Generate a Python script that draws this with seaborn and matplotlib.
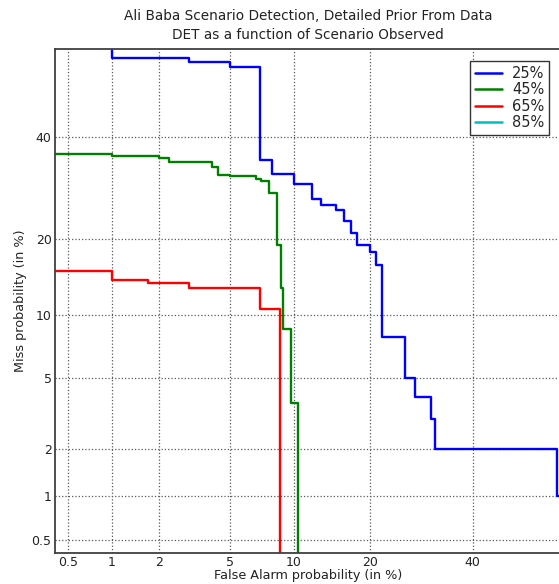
import numpy as np
import pandas as pd
import matplotlib
matplotlib.use("Agg")
import matplotlib.pyplot as plt
from matplotlib.lines import Line2D
import seaborn as sns
from statistics import NormalDist

# DET curves, values in percent (false alarm, miss)
fa_25 = [1, 1, 3, 5, 7, 8, 10, 12, 13, 15, 16, 17, 18, 20, 21, 22, 26, 28, 31, 32, 59, 65]
miss_25 = [65, 58, 57, 56, 35, 32, 30, 27, 26, 25, 23, 21, 19, 18, 16, 8, 5, 4, 3, 2, 1, 1]

fa_45 = [0.1, 1, 2, 2.3, 4, 4.3, 5, 6.7, 7.1, 7.7, 8.4, 8.8, 9.0, 9.7, 10.4]
miss_45 = [36.2, 35.9, 35.4, 34.6, 33.4, 31.9, 31.6, 30.9, 30.6, 28.3, 19, 13, 8.7, 3.7, 0.1]

fa_65 = [0.1, 1, 1.7, 3, 7, 8.7]
miss_65 = [15.3, 14.1, 13.7, 13.0, 10.7, 0.1]

fa_85 = []
miss_85 = []

series = ["25%", "45%", "65%", "85%"]
colors = {"25%": "#0000ff", "45%": "#008000", "65%": "#ff0000", "85%": "#00bfbf"}
tick_vals = [0.5, 1, 2, 5, 10, 20, 40]
tick_labels = ["0.5", "1", "2", "5", "10", "20", "40"]

nd = NormalDist()
_ppf = np.vectorize(lambda p: nd.inv_cdf(min(max(p / 100.0, 1e-9), 1 - 1e-9)), otypes=[float])
_cdf = np.vectorize(lambda z: nd.cdf(z) * 100.0, otypes=[float])


def fwd(v):
    return _ppf(np.asarray(v, dtype=float))


def inv(z):
    return _cdf(np.asarray(z, dtype=float))


sns.set_style("white")
plt.rcParams["font.family"] = ["DejaVu Sans"]

fig = plt.figure(figsize=(5.59, 5.84), dpi=100)
ax = fig.add_axes([55 / 559, 31 / 584, 506 / 559, 504 / 584])
ax.set_xscale("function", functions=(fwd, inv))
ax.set_yscale("function", functions=(fwd, inv))

data = {"25%": (fa_25, miss_25), "45%": (fa_45, miss_45), "65%": (fa_65, miss_65)}
for name, (fa, miss) in data.items():
    df = pd.DataFrame({"fa": fa, "miss": miss})
    sns.lineplot(data=df, x="fa", y="miss", ax=ax, sort=False, estimator=None,
                 color=colors[name], lw=1.7, drawstyle="steps-post")

ax.set_xlim(0.4, 60)
ax.set_ylim(0.4, 60)
ax.set_xticks(tick_vals)
ax.set_xticklabels(tick_labels)
ax.set_yticks(tick_vals)
ax.set_yticklabels(tick_labels)
ax.minorticks_off()
ax.tick_params(direction="in", length=4, labelsize=9, colors="#222222", pad=2.5)
ax.grid(True, ls=":", color="0.35", lw=0.9)
for s in ax.spines.values():
    s.set_color("0.25")
    s.set_linewidth(1.3)

ax.set_xlabel("False Alarm probability (in %)", fontsize=9.2, color="#222222", labelpad=0)
ax.set_ylabel("Miss probability (in %)", fontsize=9.2, color="#222222", labelpad=3)
ax.set_title("Ali Baba Scenario Detection, Detailed Prior From Data\n"
             "DET as a function of Scenario Observed", fontsize=9.8, color="#222222",
             pad=7, linespacing=1.45)

handles = [Line2D([], [], color=colors[s], lw=1.8) for s in series]
leg = ax.legend(handles, series, loc="upper right", fontsize=10.5, fancybox=False,
                framealpha=1, edgecolor="0.2", borderaxespad=0.8, handlelength=1.8,
                labelspacing=0.1, borderpad=0.35, handletextpad=0.7)
leg.get_frame().set_linewidth(1.0)

fig.savefig("out.png", dpi=100)
